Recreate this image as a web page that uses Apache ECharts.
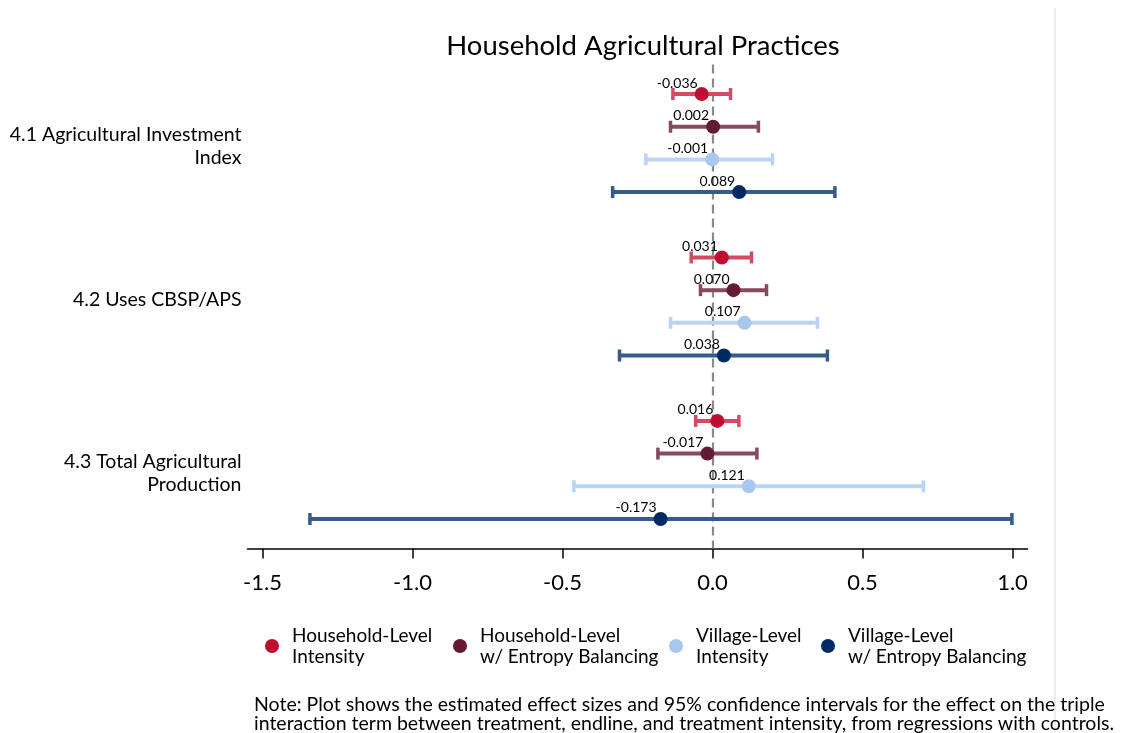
<!DOCTYPE html>
<html>
<head>
<meta charset="utf-8">
<title>Household Agricultural Practices</title>
<script src="https://cdn.jsdelivr.net/npm/echarts@6/dist/echarts.min.js"></script>
<style>
  html, body { margin: 0; padding: 0; background: #fff; }
  #chart { width: 1122px; height: 733px; }
</style>
</head>
<body>
<div id="chart"></div>
<script>
// Outcome groups (y-axis labels)
const outcomes = ['4.1 Agricultural Investment\nIndex', '4.2 Uses CBSP/APS', '4.3 Total Agricultural\nProduction'];

// Specification names (legend)
const specNames = [
  'Household-Level\nIntensity',
  'Household-Level\nw/ Entropy Balancing',
  'Village-Level\nIntensity',
  'Village-Level\nw/ Entropy Balancing'
];

// Point estimates per outcome, one array per specification
const estHH   = [-0.036, 0.031, 0.016];
const estHHEB = [0.002, 0.070, -0.017];
const estVL   = [-0.001, 0.107, 0.121];
const estVLEB = [0.089, 0.038, -0.173];

// 95% confidence interval lower bounds
const loHH   = [-0.132, -0.071, -0.056];
const loHHEB = [-0.140, -0.040, -0.182];
const loVL   = [-0.222, -0.140, -0.462];
const loVLEB = [-0.333, -0.310, -1.342];

// 95% confidence interval upper bounds
const hiHH   = [0.060, 0.130, 0.088];
const hiHHEB = [0.153, 0.180, 0.148];
const hiVL   = [0.200, 0.350, 0.703];
const hiVLEB = [0.408, 0.383, 0.998];

// x-axis tick labels
const xTicks = [-1.5, -1.0, -0.5, 0.0, 0.5, 1.0];

const estimates = [estHH, estHHEB, estVL, estVLEB];
const lowers = [loHH, loHHEB, loVL, loVLEB];
const uppers = [hiHH, hiHHEB, hiVL, hiVLEB];

const pointColors = ['#c10d30', '#641a31', '#a8c7ef', '#002a63'];
const barColors   = ['#d54962', '#864a5c', '#bad4f4', '#335b8b'];

// Each outcome takes four rows plus one blank row as a separator
const rowOf = (g, s) => g * 5 + s;
// Row at which each outcome's label sits
const labelRows = [1.6, 6.3, 11.6];

const FONT = 'Lato, "DejaVu Sans", sans-serif';

const series = [];

specNames.forEach((name, s) => {
  const ciData = outcomes.map((_, g) => [lowers[s][g], uppers[s][g], rowOf(g, s)]);
  const ci = {
    type: 'custom',
    name: name + ' CI',
    z: 2,
    silent: true,
    data: ciData,
    encode: { x: [0, 1], y: 2 },
    renderItem: function (params, api) {
      const a = api.coord([api.value(0), api.value(2)]);
      const b = api.coord([api.value(1), api.value(2)]);
      const capH = 6;
      const st = { stroke: barColors[s], lineWidth: 4 };
      const capSt = { stroke: barColors[s], lineWidth: 3.5 };
      return {
        type: 'group',
        children: [
          { type: 'line', shape: { x1: a[0], y1: a[1], x2: b[0], y2: b[1] }, style: st },
          { type: 'line', shape: { x1: a[0], y1: a[1] - capH, x2: a[0], y2: a[1] + capH }, style: capSt },
          { type: 'line', shape: { x1: b[0], y1: b[1] - capH, x2: b[0], y2: b[1] + capH }, style: capSt }
        ]
      };
    }
  };
  if (s === 0) {
    // dashed reference line at zero effect
    ci.markLine = {
      silent: true,
      symbol: ['none', 'none'],
      label: { show: false },
      lineStyle: { color: '#8a8a8a', type: [9, 5], width: 2.2 },
      data: [{ xAxis: 0 }],
      z: 1
    };
  }
  series.push(ci);
});

specNames.forEach((name, s) => {
  series.push({
    type: 'scatter',
    name: name,
    z: 4,
    symbol: 'circle',
    symbolSize: 14,
    itemStyle: { color: pointColors[s], opacity: 1 },
    data: outcomes.map((_, g) => [estimates[s][g], rowOf(g, s)]),
    label: {
      show: true,
      position: [3, 3],
      align: 'right',
      verticalAlign: 'bottom',
      fontFamily: FONT,
      fontSize: 14,
      color: '#000',
      formatter: p => p.value[0].toFixed(3)
    }
  });
});

const legendX = [260, 448, 664, 816];
const legends = specNames.map((name, s) => ({
  data: [name],
  left: legendX[s],
  top: 620,
  orient: 'horizontal',
  icon: 'circle',
  itemWidth: 14,
  itemHeight: 14,
  itemGap: 0,
  selectedMode: false,
  textStyle: { fontFamily: FONT, fontSize: 19, color: '#000', lineHeight: 21, padding: [0, 0, 0, 8] }
}));

const chart = echarts.init(document.getElementById('chart'), null, { renderer: 'canvas' });
chart.setOption({
  backgroundColor: '#ffffff',
  animation: false,
  title: {
    text: 'Household Agricultural Practices',
    left: 638,
    top: 27,
    textAlign: 'center',
    textStyle: { fontFamily: FONT, fontSize: 27.5, fontWeight: 'normal', color: '#000' }
  },
  legend: legends,
  grid: { left: 247.5, right: 94.5, top: 64.6, bottom: 184.6, containLabel: false },
  xAxis: {
    type: 'value',
    min: -1.55,
    max: 1.05,
    axisLine: { show: true, onZero: false, lineStyle: { color: '#000', width: 1.5 } },
    axisTick: { show: true, length: 10, customValues: xTicks, lineStyle: { color: '#000', width: 1.5 } },
    splitLine: { show: false },
    axisLabel: {
      customValues: xTicks,
      formatter: v => v.toFixed(1),
      fontFamily: FONT,
      fontSize: 22,
      color: '#000',
      margin: 24
    }
  },
  yAxis: {
    type: 'value',
    inverse: true,
    min: -0.9,
    max: 13.9,
    axisLine: { show: false },
    axisTick: { show: false },
    splitLine: { show: false },
    axisLabel: {
      customValues: labelRows,
      formatter: v => outcomes[labelRows.findIndex(r => Math.abs(r - v) < 1e-6)],
      fontFamily: FONT,
      fontSize: 19.5,
      lineHeight: 23,
      color: '#000',
      align: 'right',
      margin: 6
    }
  },
  graphic: [
    {
      type: 'rect',
      left: 1054,
      top: 8,
      shape: { width: 2, height: 725 },
      style: { fill: '#e8eef4' },
      silent: true
    },
    {
      type: 'text',
      left: 254,
      top: 695,
      style: {
        text: 'Note: Plot shows the estimated effect sizes and 95% confidence intervals for the effect on the triple\ninteraction term between treatment, endline, and treatment intensity, from regressions with controls.',
        fontFamily: FONT,
        fontSize: 19.5,
        lineHeight: 18.5,
        fill: '#000'
      },
      silent: true
    }
  ],
  series: series
});
</script>
</body>
</html>
